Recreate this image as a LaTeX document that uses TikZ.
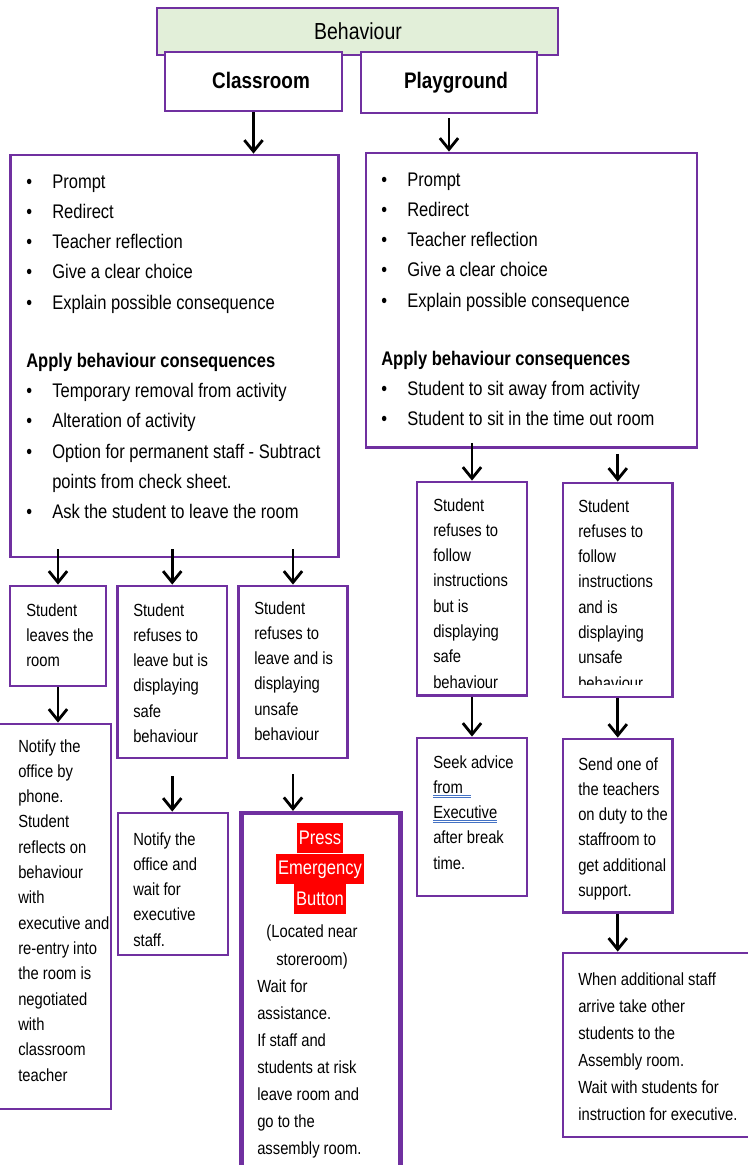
\documentclass[tikz,border=0pt]{standalone}
\usepackage{fontspec}
\setmainfont{Liberation Sans}[FakeStretch=0.84]
\usetikzlibrary{arrows.meta,positioning,fit}
\definecolor{boxpurple}{HTML}{7030A0}
\definecolor{headgreen}{HTML}{E2EFD9}
\definecolor{linkblue}{HTML}{4472C4}
\newcommand{\bul}{\makebox[0.65cm][l]{\textbullet}}
\newcommand{\bulgap}{\hspace*{0.65cm}}
\newcommand{\linkul}[1]{\setbox0=\hbox{#1}\rlap{\color{linkblue}\rule[-1.8pt]{\wd0}{0.5pt}}\rlap{\color{linkblue}\rule[-3.2pt]{\wd0}{0.5pt}}\box0}
\newcommand{\textrows}[1]{\begin{tabular}[t]{@{}l@{}}#1\end{tabular}}
\newcommand{\centrows}[1]{\begin{tabular}[t]{@{}c@{}}#1\end{tabular}}

\begin{document}
\begin{tikzpicture}[x=0.025cm, y=-0.025cm,
    box/.style={draw=boxpurple, line width=2pt, inner sep=0pt},
    arr/.style={-{Straight Barb[length=8pt,width=13pt]}, line width=2pt},
    bigtxt/.style={anchor=base west, inner sep=0pt, font=\fontsize{14}{21.55}\selectfont},
    smalltxt/.style={anchor=base west, inner sep=0pt, font=\fontsize{12.5}{18}\selectfont},
    widetxt/.style={anchor=base west, inner sep=0pt, font=\fontsize{12.5}{19.3}\selectfont},
    alarm/.style={fill=red, text=white, inner xsep=1.4pt, inner ysep=0pt, text height=15pt, text depth=6.3pt, font=\fontsize{14}{16}\selectfont}]
\useasboundingbox (0,0) rectangle (748,1165);

% header
\node[box, fill=headgreen, fit={(157,8) (558,55)}] (head) {};
\node[box, fill=white, fit={(165,52) (342,111)}] (cls) {};
\node[box, fill=white, fit={(361,52) (537,113)}] (play) {};
\node[anchor=base, inner sep=0pt, font=\fontsize{16.5}{18}\selectfont] (headt) at (358,39) {Behaviour};
\node[anchor=base, inner sep=0pt, font=\bfseries\fontsize{16}{18}\selectfont] (clst) at (261,88) {Classroom};
\node[anchor=base, inner sep=0pt, font=\bfseries\fontsize{16}{18}\selectfont] (playt) at (456,88) {Playground};

% classroom
\node[box, fit={(10.5,155) (338.5,557)}] (clsList) {};
\node[bigtxt] (clsListt) at (26,188) {\textrows{\bul Prompt\\ \bul Redirect\\ \bul Teacher reflection\\ \bul Give a clear choice\\ \bul Explain possible consequence\\[0.69cm]
    \textbf{Apply behaviour consequences}\\ \bul Temporary removal from activity\\ \bul Alteration of activity\\
    \bul Option for permanent staff - Subtract\\ \bulgap points from check sheet.\\ \bul Ask the student to leave the room}};

\node[box, fit={(10,586) (106,686)}] (leaves) {};
\node[smalltxt] (leavest) at (26,616) {\textrows{Student\\leaves the\\room}};
\node[box, fit={(117.5,586) (227,758)}] (safeC) {};
\node[smalltxt] (safeCt) at (133,616) {\textrows{Student\\refuses to\\leave but is\\displaying\\safe\\behaviour}};
\node[box, fit={(238.5,586) (347.5,758)}] (unsafeC) {};
\node[smalltxt] (unsafeCt) at (254,614) {\textrows{Student\\refuses to\\leave and is\\displaying\\unsafe\\behaviour}};

\node[box, fit={(-2,724) (111,1109)}] (phone) {};
\node[smalltxt] (phonet) at (18,752) {\textrows{Notify the\\office by\\phone.\\Student\\reflects on\\behaviour\\with\\executive and\\re-entry into\\the room is\\negotiated\\with\\classroom\\teacher}};
\node[box, fit={(118,813) (228,955)}] (office) {};
\node[smalltxt] (officet) at (133,845) {\textrows{Notify the\\office and\\wait for\\executive\\staff.}};

\node[box, line width=3pt, fit={(241.5,813) (400.5,1172)}] (emergency) {};
\node[alarm, anchor=north] (press) at (320,823) {Press};
\node[alarm, below=0pt of press] (emerg) {Emergency};
\node[alarm, below=0pt of emerg] (button) {Button};
\node[anchor=base, inner sep=0pt, font=\fontsize{12.5}{20}\selectfont] (locatedt) at (312,937) {\centrows{(Located near\\storeroom)}};
\node[widetxt] (waitt) at (257,992) {\textrows{Wait for\\assistance.\\If staff and\\students at risk\\leave room and\\go to the\\assembly room.}};

% playground
\node[box, fit={(366,153) (697,447.5)}] (playList) {};
\node[bigtxt] (playListt) at (381,186) {\textrows{\bul Prompt\\ \bul Redirect\\ \bul Teacher reflection\\ \bul Give a clear choice\\ \bul Explain possible consequence\\[0.69cm]
    \textbf{Apply behaviour consequences}\\ \bul Student to sit away from activity\\ \bul Student to sit in the time out room}};

\node[box, fit={(417,482) (527,695.5)}] (safeP) {};
\node[smalltxt] (safePt) at (433,511) {\textrows{Student\\refuses to\\follow\\instructions\\but is\\displaying\\safe\\behaviour}};
\node[box, fit={(563,483) (672.5,697)}] (unsafeP) {};
\begin{scope}
  \clip (563,483) rectangle (672,684);
  \node[smalltxt] (unsafePt) at (578,512) {\textrows{Student\\refuses to\\follow\\instructions\\and is\\displaying\\unsafe\\behaviour}};
\end{scope}

\node[box, fit={(417,738) (527,896)}] (advice) {};
\node[smalltxt] (advicet) at (433,768) {\textrows{Seek advice\\\linkul{from\ \ }\\\linkul{Executive}\\after break\\time.}};
\node[box, fit={(563,739) (672.5,912.5)}] (sendT) {};
\node[smalltxt] (sendTt) at (578,770) {\textrows{Send one of\\the teachers\\on duty to the\\staffroom to\\get additional\\support.}};
\node[box, fit={(563,953) (752,1137)}] (assembly) {};
\node[widetxt] (assemblyt) at (578,985) {\textrows{When additional staff\\arrive take other\\students to the\\Assembly room.\\Wait with students for\\instruction for executive.}};

% arrows
\draw[arr] (cls.south) -- (cls.south |- clsList.north);
\draw[arr] (play.south) ++(0,4) -- (play.south |- playList.north);
\foreach \b in {leaves,safeC,unsafeC}
  \draw[arr] (\b.north |- clsList.south) ++(0,-9) -- (\b.north);
\draw[arr] (safeP.north |- playList.south) ++(0,-6) -- (safeP.north);
\draw[arr] (unsafeP.north |- playList.south) ++(0,5) -- (unsafeP.north);
\draw[arr] (leaves.south) -- (leaves.south |- phone.north);
\draw[arr] (safeC.south) ++(0,17) -- (safeC.south |- office.north);
\draw[arr] (unsafeC.south) ++(0,15) -- (unsafeC.south |- emergency.north);
\draw[arr] (safeP.south) -- (safeP.south |- advice.north);
\draw[arr] (unsafeP.south) -- (unsafeP.south |- sendT.north);
\draw[arr] (sendT.south) -- (sendT.south |- assembly.north);
\end{tikzpicture}
\end{document}
